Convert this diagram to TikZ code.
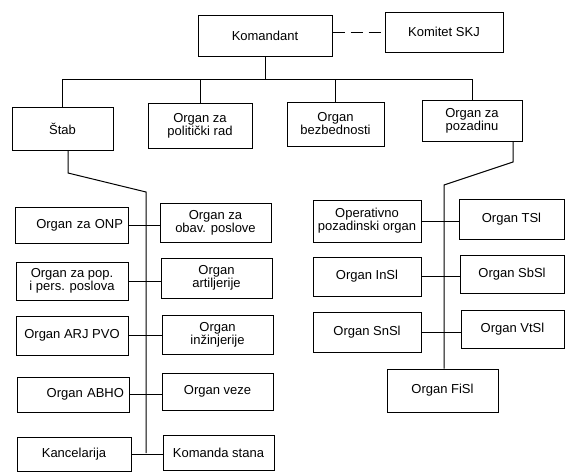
\documentclass[tikz,border=0pt]{standalone}
\usepackage{fontspec}
\setmainfont{Liberation Sans}
\begin{document}
\begin{tikzpicture}[x=1pt,y=-1pt,
  box/.style={draw, line width=1pt, inner sep=0pt, align=center,
    font=\fontsize{13}{13}\selectfont},
  conn/.style={line width=1pt},
  dashconn/.style={line width=1pt, dash pattern=on 12pt off 6pt},
  rtext/.style={text width=#1, align=right}
]
\useasboundingbox (0,0) rectangle (566,472);
\clip (0,0) rectangle (566,472);
% top
\node[box, minimum width=134, minimum height=41] (kom) at (265,35.5) {Komandant};
\node[box, minimum width=118, minimum height=40] (skj) at (444,32) {Komitet SKJ};
% second row
\node[box, minimum width=101, minimum height=43] (stab) at (62.5,128.5) {Štab};
\node[box, minimum width=104, minimum height=45] (pol) at (200,125.5) {Organ za\\politički rad};
\node[box, minimum width=97, minimum height=44] (bez) at (335.5,124) {Organ\\bezbednosti};
\node[box, minimum width=100, minimum height=41] (poz) at (472,120.5) {Organ za\\pozadinu};
% left column
\node[box, rtext=103pt, minimum width=113, minimum height=36] (onp) at (71.5,225) {Organ za ONP};
\node[box, minimum width=111, minimum height=39] (obav) at (215.5,222.5) {Organ za\\obav. poslove};
\node[box, minimum width=112, minimum height=38] (pop) at (72,281) {Organ za pop.\\i pers. poslova};
\node[box, minimum width=111, minimum height=40] (art) at (216.5,278) {Organ\\artiljerije};
\node[box, minimum width=112, minimum height=39] (arj) at (72,335.5) {Organ ARJ PVO};
\node[box, minimum width=111, minimum height=39] (inz) at (217.5,334.5) {Organ\\inžinjerije};
\node[box, rtext=102pt, minimum width=112, minimum height=35] (abho) at (73,394.5) {Organ ABHO};
\node[box, minimum width=111, minimum height=37] (veze) at (217.5,391.5) {Organ veze};
\node[box, minimum width=114, minimum height=34] (kanc) at (74,454) {Kancelarija};
\node[box, minimum width=111, minimum height=35] (koms) at (218.5,452.5) {Komanda stana};
% right column
\node[box, minimum width=108, minimum height=42] (opo) at (367,221) {Operativno\\pozadinski organ};
\node[box, minimum width=105, minimum height=40] (tsl) at (511.5,219) {Organ TSl};
\node[box, minimum width=108, minimum height=39] (insl) at (367,276.5) {Organ InSl};
\node[box, minimum width=104, minimum height=38] (sbsl) at (512,274) {Organ SbSl};
\node[box, minimum width=108, minimum height=40] (snsl) at (367,332) {Organ SnSl};
\node[box, minimum width=103, minimum height=38] (vtsl) at (512.5,329) {Organ VtSl};
\node[box, minimum width=111, minimum height=43] (fisl) at (442.5,390.5) {Organ FiSl};
% coordinates
\coordinate (bus) at (268,79);
\coordinate (la) at (68,173);
\coordinate (lb) at (146,192);
\coordinate (lc) at (146,453);
\coordinate (ra) at (513,162);
\coordinate (rb) at (444,185);
% connectors
\draw[dashconn] (skj.west -| kom.east) -- (skj.west);
\draw[conn] (kom.south) -- (kom.south |- bus);
\draw[conn] (stab.north) -- (stab.north |- bus) -- (poz.north |- bus) -- (poz.north);
\draw[conn] (pol.north) -- (pol.north |- bus);
\draw[conn] (bez.north) -- (bez.north |- bus);
\draw[conn] (stab.south -| la) -- (la) -- (lb) -- (lc);
\draw[conn] (poz.south -| ra) -- (ra) -- (rb) -- (fisl.north -| rb);
\draw[conn] (onp.east) -- (onp.east -| obav.west);
\draw[conn] (pop.east) -- (pop.east -| art.west);
\draw[conn] (arj.east) -- (arj.east -| inz.west);
\draw[conn] (abho.east) -- (abho.east -| veze.west);
\draw[conn] (kanc.east) -- (kanc.east -| koms.west);
\draw[conn] (opo.east) -- (opo.east -| tsl.west);
\draw[conn] (insl.east) -- (insl.east -| sbsl.west);
\draw[conn] (snsl.east) -- (snsl.east -| vtsl.west);
\end{tikzpicture}
\end{document}
